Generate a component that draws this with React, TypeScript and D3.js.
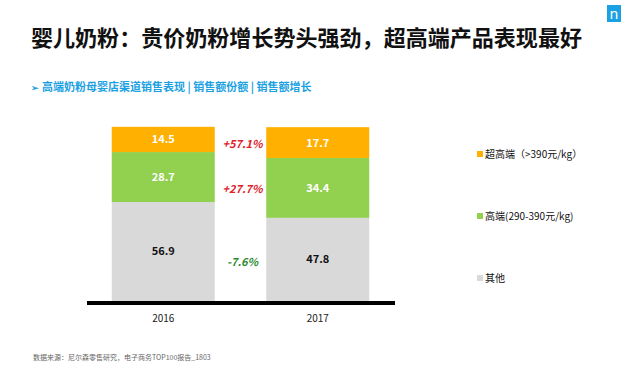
import React from "react";
import * as d3 from "d3";

const years = ["2016", "2017"];
const seriesNames = ["其他", "高端", "超高端"];
const otherValues = [56.9, 47.8];
const highValues = [28.7, 34.4];
const superValues = [14.5, 17.7];
const growthLabels = ["-7.6%", "+27.7%", "+57.1%"];
const legendLabels = ["超高端（>390元/kg）", "高端(290-390元/kg)", "其他"];

const colors = ["#D9D9D9", "#92D050", "#FFB000"];
const labelColors = ["#111111", "#ffffff", "#ffffff"];
const growthColors = ["#2E8B2E", "#E0202A", "#E0202A"];

const W = 625;
const H = 368;
const FONT = "'Noto Sans CJK SC', 'Noto Sans', sans-serif";

export default function App() {
  const x = d3.scaleBand<string>().domain(years).range([86, 395]).paddingInner(1 / 3).paddingOuter(1 / 6);
  const y = d3.scaleLinear().domain([0, 100]).range([301, 127]);

  const rows = years.map((yr, i) => ({
    year: yr,
    其他: otherValues[i],
    高端: highValues[i],
    超高端: superValues[i],
  }));
  const stack = d3.stack<any>().keys(seriesNames);
  const layers = stack(rows);

  const lastIdx = years.length - 1;
  const growthX = ((x(years[0])! + x.bandwidth()) + x(years[1])!) / 2 + 2;

  return (
    <svg width={W} height={H} style={{ position: "absolute", left: 0, top: 0, background: "#fff" }} fontFamily={FONT}>
      <rect x={0} y={0} width={W} height={H} fill="#fff" />
      {/* logo */}
      <rect x={607} y={5} width={14} height={17} fill="#1BA1E2" />
      <text x={614} y={19} textAnchor="middle" fill="#fff" fontSize={14} fontFamily="'DejaVu Sans', sans-serif">n</text>

      {/* title */}
      <text x={31} y={46} fontSize={22} fontWeight="bold" fill="#111" textLength={551} lengthAdjust="spacingAndGlyphs">婴儿奶粉：贵价奶粉增长势头强劲，超高端产品表现最好</text>
      {/* subtitle */}
      <text x={31} y={91} fontSize={11} fontWeight="bold" fill="#1BA1E2">
        <tspan fontSize={9}>➢</tspan>
        <tspan dx={3}>{"高端奶粉母婴店渠道销售表现 | 销售额份额 | 销售额增长"}</tspan>
      </text>

      {/* bars */}
      {layers.map((layer, li) => (
        <g key={li}>
          {layer.map((d, i) => (
            <g key={i}>
              <rect
                x={x(years[i])!}
                y={y(d[1])}
                width={x.bandwidth()}
                height={y(d[0]) - y(d[1])}
                fill={colors[li]}
              />
              <text
                x={x(years[i])! + x.bandwidth() / 2}
                y={(y(d[0]) + y(d[1])) / 2 + 4}
                textAnchor="middle"
                fontSize={11}
                fontWeight="bold"
                fill={labelColors[li]}
              >
                {(d[1] - d[0]).toFixed(1)}
              </text>
            </g>
          ))}
          <text
            x={growthX}
            y={(y(layer[lastIdx][0]) + y(layer[lastIdx][1])) / 2 + 5 + (li === 0 ? 2 : 0)}
            textAnchor="middle"
            fontSize={11}
            fontWeight="bold"
            fontStyle="italic"
            fill={growthColors[li]}
          >
            {growthLabels[li]}
          </text>
        </g>
      ))}

      {/* axis */}
      <line x1={87} x2={395} y1={y(0) + 2} y2={y(0) + 2} stroke="#000" strokeWidth={4} />
      {years.map((yr) => (
        <text key={yr} x={x(yr)! + x.bandwidth() / 2} y={322} textAnchor="middle" fontSize={10} fill="#222">
          {yr}
        </text>
      ))}

      {/* legend */}
      {legendLabels.map((lab, i) => {
        const ly = 154 + i * 62;
        const ci = colors.length - 1 - i;
        return (
          <g key={i}>
            <rect x={477} y={ly - 3} width={6} height={6} fill={colors[ci]} />
            <text x={485} y={ly + 4} fontSize={10} fill="#111">{lab}</text>
          </g>
        );
      })}

      {/* footer */}
      <text x={33} y={360} fontSize={7} fill="#666">数据来源：尼尔森零售研究，电子商务TOP100报告_1803</text>
    </svg>
  );
}
